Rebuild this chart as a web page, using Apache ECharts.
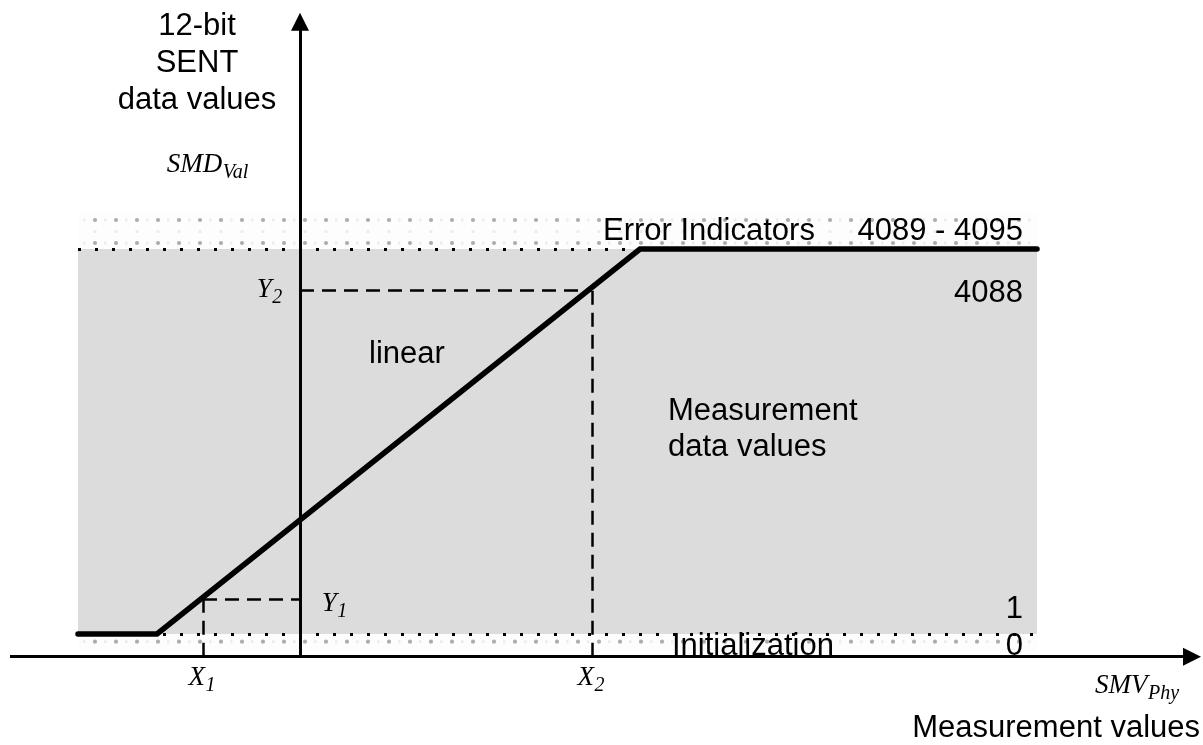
<!DOCTYPE html>
<html><head><meta charset="utf-8">
<script src="https://cdn.jsdelivr.net/npm/echarts@6/dist/echarts.min.js"></script>
<style>html,body{margin:0;padding:0;background:#fff}#c{width:1203px;height:745px}</style>
</head><body><div id="c"></div>
<script>
// ---- data (schematic units: y 0 = code 0/1 line, y 100 = code 4088 line) ----
const curveX = [-22.2, -14.3, 34.0, 73.7];
const curveY = [0, 0, 100, 100];
const shadeX = [-22.2, 73.7];
const measurementBand = [0, 100];
const errorBand = [100, 109.3];
const initBand = [-4.6, 0];
const pointX = [-9.7, 29.2];      // X1, X2
const pointY = [9.1, 89.35];      // Y1, Y2
const axisLevel = -5.9;           // where the horizontal axis sits
const xAxisSpan = [-29, 89.2];
const yAxisSpan = [-5.9, 159.0];
const yTitleLines = ['12-bit', 'SENT', 'data values'];
const codeLabels = ['4089 - 4095', '4088', '1', '0'];
const regionLabels = ['Error Indicators', 'linear', 'Measurement', 'data values', 'Initialization'];
const xTitle = 'Measurement values';

const SANS = '31px "Liberation Sans", Arial, Helvetica, sans-serif';
const SERIF = 'italic 27px "Liberation Serif", "Times New Roman", serif';
const SERIF_SUB = 'italic 20px "Liberation Serif", "Times New Roman", serif';

function makeDots(rowY, faintMid) {
  const c = document.createElement('canvas');
  c.width = 21; c.height = 23;
  const g = c.getContext('2d');
  g.fillStyle = '#fdfdfd'; g.fillRect(0, 0, 21, 23);
  g.fillStyle = '#ededed';
  g.fillRect(-1, rowY - 1.5, 2.5, 3); g.fillRect(20, rowY - 1.5, 2.5, 3);
  if (faintMid) {
    const my = (rowY + 11.5) % 23;
    g.fillRect(9.5, my - 1.5, 3, 3);
  }
  g.fillStyle = '#adadad';
  g.beginPath(); g.arc(11, rowY, 2.1, 0, Math.PI * 2); g.fill();
  return { image: c, repeat: 'repeat' };
}
const topPattern = makeDots(13, true);
const botPattern = makeDots(20.7, false);

const chart = echarts.init(document.getElementById('c'), null, { renderer: 'canvas' });

const dashed = { color: '#000', width: 2.5, type: [14, 8] };
const dotted = { color: '#000', width: 3, type: [3, 14] };
const axisStyle = { color: '#000', width: 3, type: 'solid' };

chart.setOption({
  animation: false,
  backgroundColor: '#fff',
  grid: { left: 0, right: 0, top: 0, bottom: 0 },
  xAxis: { type: 'value', min: -30, max: 90.3, show: false },
  yAxis: { type: 'value', min: -(745 - 634) / 3.85, max: 634 / 3.85, show: false },
  series: [
    {
      type: 'line',
      data: curveX.map((x, i) => [x, curveY[i]]),
      symbol: 'none',
      z: 3,
      lineStyle: { color: '#000', width: 5.5, cap: 'round', join: 'miter' },
      silent: true,
      markArea: {
        silent: true,
        z: 1,
        data: [
          [{ xAxis: shadeX[0], yAxis: measurementBand[0], itemStyle: { color: '#dcdcdc' } }, { xAxis: shadeX[1], yAxis: measurementBand[1] }],
          [{ xAxis: shadeX[0], yAxis: errorBand[0], itemStyle: { color: topPattern } }, { xAxis: shadeX[1], yAxis: errorBand[1] }],
          [{ xAxis: shadeX[0], yAxis: initBand[0], itemStyle: { color: botPattern } }, { xAxis: shadeX[1], yAxis: initBand[1] }]
        ]
      },
      markLine: {
        silent: true,
        symbol: ['none', 'none'],
        label: { show: false },
        emphasis: { disabled: true },
        data: [
          [{ coord: [shadeX[0], measurementBand[1]], lineStyle: dotted }, { coord: [shadeX[1], measurementBand[1]] }],
          [{ coord: [shadeX[0], measurementBand[0]], lineStyle: dotted }, { coord: [shadeX[1], measurementBand[0]] }],
          [{ coord: [pointX[0], axisLevel], lineStyle: dashed }, { coord: [pointX[0], pointY[0]] }],
          [{ coord: [pointX[0], pointY[0]], lineStyle: dashed }, { coord: [0, pointY[0]] }],
          [{ coord: [pointX[1], axisLevel], lineStyle: dashed }, { coord: [pointX[1], pointY[1]] }],
          [{ coord: [0, pointY[1]], lineStyle: dashed }, { coord: [pointX[1], pointY[1]] }],
          [{ coord: [xAxisSpan[0], axisLevel], lineStyle: axisStyle, symbol: 'none' },
           { coord: [xAxisSpan[1], axisLevel], symbol: 'triangle', symbolSize: [18, 18], itemStyle: { color: '#000' } }],
          [{ coord: [0, yAxisSpan[0]], lineStyle: axisStyle, symbol: 'none' },
           { coord: [0, yAxisSpan[1]], symbol: 'triangle', symbolSize: [18, 18], itemStyle: { color: '#000' } }]
        ]
      }
    }
  ]
});

const mctx = document.createElement('canvas').getContext('2d');
function tw(text, font) { mctx.font = font; return mctx.measureText(text).width; }
function txt(text, x, y, font, align) {
  return {
    type: 'text', x: x, y: y, z: 100, silent: true,
    style: { text: text, font: font, fill: '#000', align: align || 'left', verticalAlign: 'middle',
             textAlign: align || 'left', textVerticalAlign: 'middle' }
  };
}
// main symbol with subscript placed right after it
function sym(main, sub, x, y, els) {
  els.push(txt(main, x, y, SERIF));
  els.push(txt(sub, x + tw(main, SERIF) + 0.5, y + 8, SERIF_SUB));
}
const P = (x, y) => chart.convertToPixel({ gridIndex: 0 }, [x, y]);
const els = [];
yTitleLines.forEach((t, i) => els.push(txt(t, 197, [26, 63, 100][i], SANS, 'center')));
els.push(txt(regionLabels[0], 603, 231.4, SANS));
els.push(txt(codeLabels[0], 1023, 231.4, SANS, 'right'));
els.push(txt(codeLabels[1], 1023, 293.4, SANS, 'right'));
els.push(txt(codeLabels[2], 1023, 609.4, SANS, 'right'));
els.push(txt(codeLabels[3], 1023, 646.4, SANS, 'right'));
els.push(txt(regionLabels[1], 369, 354.4, SANS));
els.push(txt(regionLabels[2], 668, 411.4, SANS));
els.push(txt(regionLabels[3], 668, 447, SANS));
els.push(txt(regionLabels[4], 672, 646.4, SANS));
els.push(txt(xTitle, 1200, 728.4, SANS, 'right'));
// italic symbols
sym('SMD', 'Val', 166.7, 165, els);
sym('SMV', 'Phy', 1095, 686, els);
['1', '2'].forEach((s, i) => {
  const px = P(pointX[i], axisLevel)[0];
  const total = tw('X', SERIF) + 0.5 + tw(s, SERIF_SUB);
  sym('X', s, px - total / 2 - 1, 678, els);
});
const axPix = P(0, 0)[0];
const y1 = P(0, pointY[0])[1];
sym('Y', '1', axPix + 21.7, y1 + 4.5, els);
const y2 = P(0, pointY[1])[1];
sym('Y', '2', axPix - 43.3, y2 - 0.2, els);
chart.setOption({ graphic: { elements: els } });
</script>
</body></html>
